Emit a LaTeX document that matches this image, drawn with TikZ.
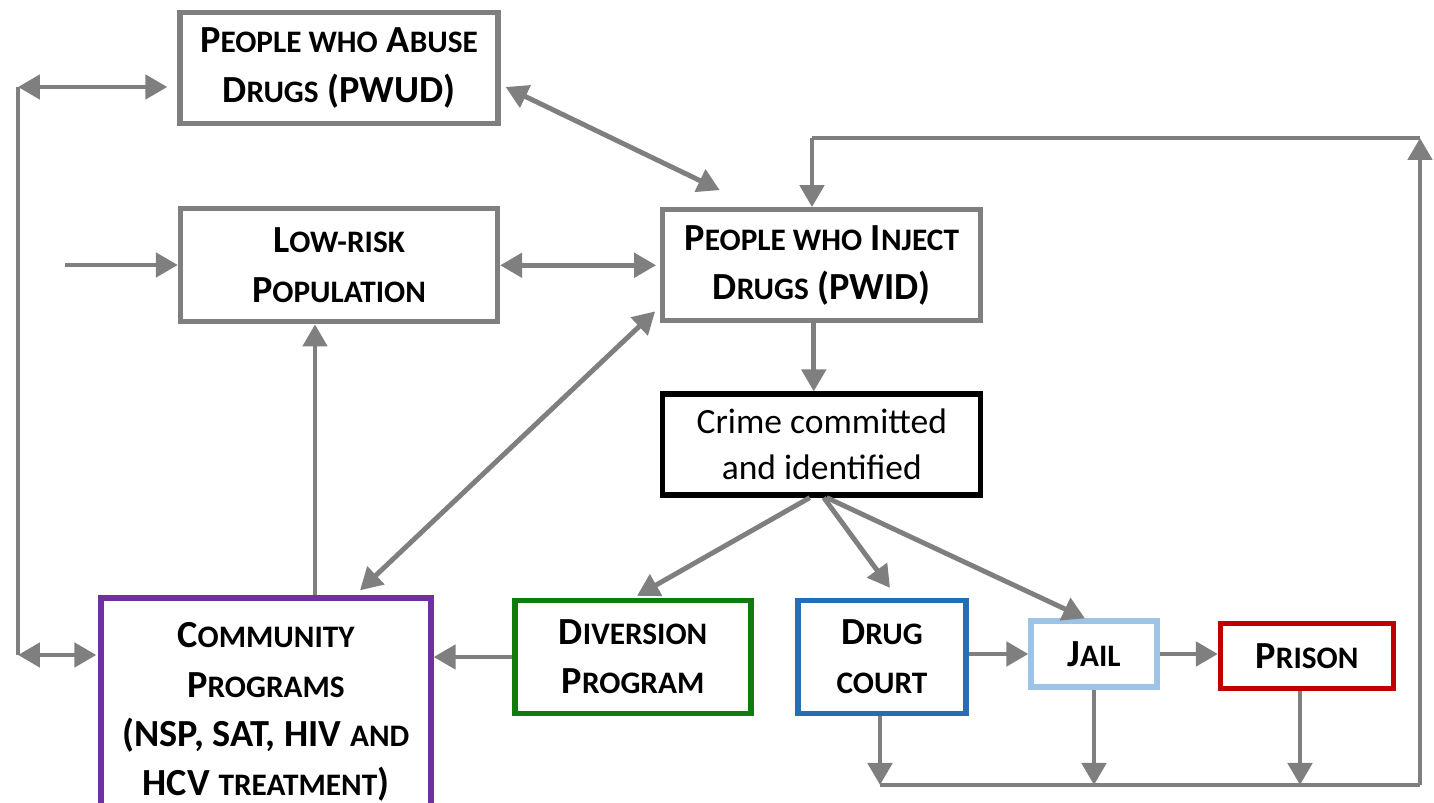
\documentclass[tikz,border=0pt]{standalone}
\usepackage{fontspec}
\setmainfont{Carlito}
\usepackage{xcolor}
\usetikzlibrary{arrows.meta, positioning}
\definecolor{linegray}{RGB}{127, 127, 127}
\definecolor{progpurple}{RGB}{112, 48, 160}
\definecolor{divgreen}{RGB}{16, 124, 16}
\definecolor{courtblue}{RGB}{38, 110, 180}
\definecolor{jailblue}{RGB}{157, 195, 230}
\definecolor{prisonred}{RGB}{192, 0, 0}
\newcommand{\sm}[1]{{\fontsize{8.9}{14}\selectfont #1}}

\begin{document}
\begin{tikzpicture}[
  box/.style={draw, line width=1.5pt, align=center, inner sep=2pt, font=\bfseries\fontsize{10.9}{14}\selectfont},
  grey/.style={box, draw=linegray},
  crime/.style={box, draw=black, font=\fontsize{10.1}{13}\selectfont},
  prog/.style={box, draw=progpurple},
  div/.style={box, draw=divgreen},
  court/.style={box, draw=courtblue},
  jail/.style={box, draw=jailblue},
  pris/.style={box, draw=prisonred},
  ln/.style={draw=linegray, line width=1.4pt},
  arr/.style={ln, -{Triangle[length=2.2mm, width=2.4mm]}},
  dbl/.style={ln, {Triangle[length=2.2mm, width=2.4mm]}-{Triangle[length=2.2mm, width=2.4mm]}}]

  \useasboundingbox (0,0) rectangle (14.34,-8.03);

  \node[grey, minimum width=3.18cm, minimum height=1.11cm] (pwud) at (3.39,-0.68) {P\sm{EOPLE WHO} A\sm{BUSE}\\D\sm{RUGS} (PWUD)};
  \node[grey, minimum width=3.17cm, minimum height=1.13cm, below=0.8cm of pwud] (low) {L\sm{OW-RISK}\\P\sm{OPULATION}};
  \node[grey, minimum width=3.18cm, minimum height=1.11cm, right=1.6cm of low] (pwid) {P\sm{EOPLE WHO} I\sm{NJECT}\\D\sm{RUGS} (PWID)};
  \node[crime, minimum width=3.18cm, minimum height=1.01cm, below=0.68cm of pwid] (crime) {Crime committed\\and identified};

  \node[prog, minimum width=3.3cm, minimum height=2.28cm] (comm) at (2.66,-7.12) {C\sm{OMMUNITY}\\P\sm{ROGRAMS}\\(NSP, SAT, HIV \sm{AND}\\HCV \sm{TREATMENT})};
  \node[div, minimum width=2.36cm, minimum height=1.13cm] (divp) at (6.33,-6.57) {D\sm{IVERSION}\\P\sm{ROGRAM}};
  \node[court, minimum width=1.68cm, minimum height=1.13cm] (court) at (8.82,-6.57) {D\sm{RUG}\\\sm{COURT}};
  \node[jail, minimum width=1.26cm, minimum height=0.66cm] (jail) at (10.94,-6.54) {J\sm{AIL}};
  \node[pris, minimum width=1.73cm, minimum height=0.65cm] (prison) at (13.07,-6.56) {P\sm{RISON}};

  \coordinate (lt) at (0.18,-0.87);
  \coordinate (lb) at (0.18,-6.55);
  \coordinate (in) at (0.65,-2.65);
  \coordinate (br) at (14.2,-7.85);
  \coordinate (tr) at (14.2,-1.38);
  \coordinate (tl) at (8.12,-1.38);

  \draw[dbl] (lt) -- ([xshift=-0.1cm]pwud.west |- lt);
  \draw[ln] (lt) -- (lb);
  \draw[dbl] (lb) -- ([xshift=-0.02cm]comm.west |- lb);
  \draw[arr] (in) -- (low.west |- in);
  \draw[dbl] (low) -- ([xshift=-0.04cm]pwid.west);
  \draw[dbl] ([shift={(0.05,-0.19)}]pwud.east) -- ([shift={(-1.02,0.17)}]pwid.north);
  \draw[arr] (comm.north -| 3.15,0) -- (low.south -| 3.15,0);
  \draw[dbl] ([shift={(0.94,0.05)}]comm.north) -- ([shift={(-0.05,0.12)}]pwid.south west);
  \draw[arr] ([xshift=-0.08cm]pwid.south) -- ([xshift=-0.08cm]crime.north);

  \draw[arr] ([xshift=-0.12cm]crime.south) -- ([shift={(0.04,0.02)}]divp.north);
  \draw[arr] ([xshift=0.02cm]crime.south) -- ([shift={(0.08,0.1)}]court.north);
  \draw[arr] ([xshift=0.05cm]crime.south) -- ([xshift=-0.09cm]jail.north);

  \draw[arr] (divp.west) -- (comm.east |- divp.west);
  \draw[arr] (court.east |- jail.west) -- (jail.west);
  \draw[arr] (jail.east) -- (prison.west |- jail.east);

  \draw[arr] ([xshift=-0.02cm]court.south) -- ([xshift=-0.02cm]court.south |- br);
  \draw[arr] (jail.south) -- (jail.south |- br);
  \draw[arr] ([xshift=-0.07cm]prison.south) -- ([xshift=-0.07cm]prison.south |- br);
  \draw[ln] ([xshift=-0.02cm]court.south |- br) -- (br);
  \draw[arr] (br) -- (tr);
  \draw[ln] (tr) -- (tl);
  \draw[arr] (tl) -- (pwid.north -| tl);
\end{tikzpicture}
\end{document}
